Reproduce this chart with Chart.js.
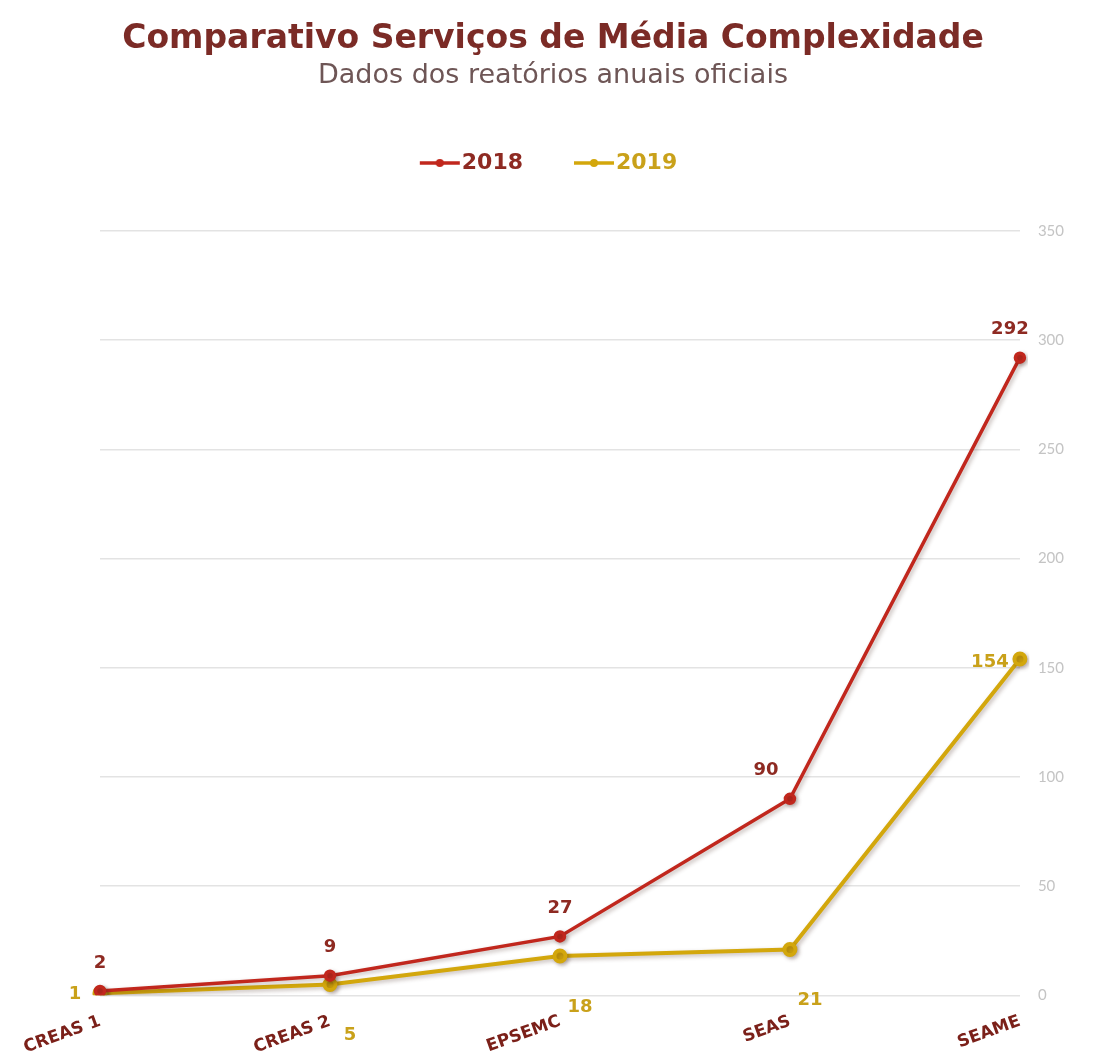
<!DOCTYPE html>
<html>
<head>
<meta charset="utf-8">
<script src="https://cdn.jsdelivr.net/npm/chart.js@4.4.1/dist/chart.umd.min.js"></script>
<style>
  html, body { margin: 0; padding: 0; background: #fff; }
  #wrap { width: 1107px; height: 1057px; }
</style>
</head>
<body>
<div id="wrap"><canvas id="chart"></canvas></div>
<script>
var categories = ['CREAS 1', 'CREAS 2', 'EPSEMC', 'SEAS', 'SEAME'];
var serie2018 = [2, 9, 27, 90, 292];
var serie2019 = [1, 5, 18, 21, 154];
var yTicks = [0, 50, 100, 150, 200, 250, 300, 350];

var FONT = '"DejaVu Sans", sans-serif';
var RED = '#C1271D';
var GOLD = '#D3A70C';
var RED_TEXT = '#8E2A22';
var GOLD_TEXT = '#C9A11A';

// little "line with a dot" marker for the legend
function legendMarker(color) {
  var c = document.createElement('canvas');
  c.width = 42; c.height = 12;
  var g = c.getContext('2d');
  g.strokeStyle = color;
  g.lineWidth = 3.5;
  g.beginPath(); g.moveTo(1, 6); g.lineTo(41, 6); g.stroke();
  g.fillStyle = color;
  g.beginPath(); g.arc(21, 6, 4, 0, Math.PI * 2); g.fill();
  return c;
}

// extra room below the legend
var legendGap = {
  id: 'legendGap',
  beforeInit: function (chart) {
    var fit = chart.legend.fit;
    chart.legend.fit = function () {
      fit.bind(chart.legend)();
      this.height += 47;
    };
  }
};

// soft drop shadow under the lines
var lineShadow = {
  id: 'lineShadow',
  beforeDatasetDraw: function (chart) {
    var ctx = chart.ctx;
    ctx.save();
    ctx.shadowColor = 'rgba(60,30,20,0.3)';
    ctx.shadowBlur = 4;
    ctx.shadowOffsetX = 2;
    ctx.shadowOffsetY = 2;
  },
  afterDatasetDraw: function (chart) {
    chart.ctx.restore();
  }
};

// value labels next to each point
var valueLabels = {
  id: 'valueLabels',
  afterDatasetsDraw: function (chart) {
    var ctx = chart.ctx;
    ctx.save();
    ctx.font = 'bold 18px ' + FONT;
    ctx.textAlign = 'center';
    ctx.textBaseline = 'middle';
    chart.data.datasets.forEach(function (ds, di) {
      var meta = chart.getDatasetMeta(di);
      var last = ds.data.length - 1;
      meta.data.forEach(function (pt, i) {
        var dx, dy;
        if (di === 0) {
          dx = i === 3 ? -24 : (i === 4 ? -10 : 0);
          dy = -28;
        } else if (i === 0) {
          dx = -25; dy = 1;
        } else if (i === last) {
          dx = -30; dy = 3;
        } else {
          dx = 20; dy = 51;
        }
        ctx.fillStyle = di === 0 ? RED_TEXT : GOLD_TEXT;
        ctx.fillText(String(ds.data[i]), pt.x + dx, pt.y + dy);
      });
    });
    ctx.restore();
  }
};

var ctx = document.getElementById('chart').getContext('2d');
var chart = new Chart(ctx, {
  type: 'line',
  data: {
    labels: categories,
    datasets: [{
      label: '2018',
      data: serie2018,
      borderColor: RED,
      backgroundColor: RED,
      borderWidth: 3.5,
      pointRadius: 4.5,
      pointHoverRadius: 4.5,
      tension: 0
    }, {
      label: '2019',
      data: serie2019,
      borderColor: GOLD,
      backgroundColor: GOLD,
      borderWidth: 4,
      pointRadius: 5.5,
      pointHoverRadius: 5.5,
      tension: 0
    }]
  },
  options: {
    responsive: true,
    maintainAspectRatio: false,
    animation: false,
    layout: { padding: { left: 24, right: 25, top: 20, bottom: -9 } },
    plugins: {
      title: {
        display: true,
        text: 'Comparativo Serviços de Média Complexidade',
        color: '#7B2B26',
        font: { family: FONT, size: 33, weight: 'bold' },
        padding: { top: 0, bottom: 0 }
      },
      subtitle: {
        display: true,
        text: 'Dados dos reatórios anuais oficiais',
        color: '#6E5656',
        font: { family: FONT, size: 27, weight: 'normal' },
        padding: { top: 0, bottom: 0 }
      },
      legend: {
        position: 'top',
        labels: {
          usePointStyle: true,
          padding: 60,
          font: { family: FONT, size: 22, weight: 'bold' },
          generateLabels: function (chart) {
            return chart.data.datasets.map(function (ds, i) {
              return {
                text: ds.label,
                pointStyle: legendMarker(ds.borderColor),
                fontColor: i === 0 ? RED_TEXT : GOLD_TEXT,
                strokeStyle: ds.borderColor,
                fillStyle: ds.borderColor,
                lineWidth: 0,
                datasetIndex: i
              };
            });
          }
        }
      },
      tooltip: { enabled: false }
    },
    scales: {
      x: {
        offset: false,
        grid: { display: false },
        border: { display: false },
        afterFit: function (axis) {
          axis.paddingLeft = 100;
        },
        ticks: {
          color: '#7B2019',
          font: { family: FONT, size: 17, weight: 'bold' },
          minRotation: 20,
          maxRotation: 20,
          padding: 8
        }
      },
      y: {
        position: 'right',
        min: 0,
        max: 350,
        afterBuildTicks: function (axis) {
          axis.ticks = yTicks.map(function (v) { return { value: v }; });
        },
        grid: { color: '#E3E3E3', lineWidth: 1.5, drawTicks: false },
        border: { display: false },
        ticks: {
          color: '#C4C4C4',
          font: { family: 'Lato, sans-serif', size: 15 },
          padding: 18
        }
      }
    }
  },
  plugins: [legendGap, lineShadow, valueLabels]
});
</script>
</body>
</html>
